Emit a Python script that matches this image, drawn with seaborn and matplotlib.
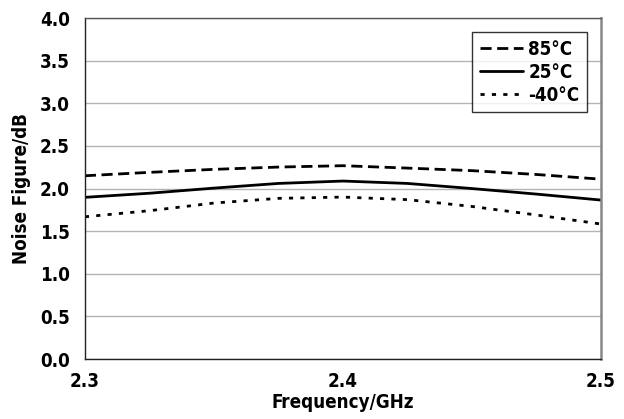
import matplotlib
matplotlib.use("Agg")
import matplotlib.pyplot as plt
import pandas as pd
import seaborn as sns

# frequency points (GHz) and noise figure (dB)
freq = [2.300, 2.325, 2.350, 2.375, 2.400, 2.425, 2.450, 2.475, 2.500]
nf_85 = [2.15, 2.19, 2.225, 2.252, 2.268, 2.24, 2.21, 2.165, 2.11]
nf_25 = [1.897, 1.945, 2.005, 2.06, 2.088, 2.06, 2.00, 1.935, 1.865]
nf_m40 = [1.669, 1.74, 1.83, 1.885, 1.90, 1.87, 1.79, 1.69, 1.584]

labels = ["85°C", "25°C", "-40°C"]
x_ticks = [2.3, 2.4, 2.5]
y_ticks = [0.0, 0.5, 1.0, 1.5, 2.0, 2.5, 3.0, 3.5, 4.0]

sns.set_style("white")
plt.rcParams["font.family"] = ["DejaVu Sans"]
plt.rcParams["font.stretch"] = "condensed"
plt.rcParams["font.weight"] = "bold"
plt.rcParams["text.color"] = "black"
plt.rcParams["axes.labelcolor"] = "black"
plt.rcParams["xtick.color"] = "black"
plt.rcParams["ytick.color"] = "black"

fig = plt.figure(figsize=(6.24, 4.19), dpi=100)
ax = fig.add_axes([0.136, 0.143, 0.827, 0.814])

styles = [(0, (4.0, 2.0)), "-", (0, (1.5, 2.6))]
for series, lab, ls in zip([nf_85, nf_25, nf_m40], labels, styles):
    df = pd.DataFrame({"freq": freq, "nf": series})
    sns.lineplot(data=df, x="freq", y="nf", ax=ax, color="black",
                 linewidth=2.0, linestyle=ls, label=lab)

ax.set_xlim(2.3, 2.5)
ax.set_ylim(0, 4.0)
ax.set_xticks(x_ticks)
ax.set_xticklabels([f"{t:.1f}" for t in x_ticks])
ax.set_yticks(y_ticks)
ax.set_yticklabels([f"{t:.1f}" for t in y_ticks])
ax.grid(axis="y", color="#b4b4b4", linewidth=1.0)
ax.set_axisbelow(True)

for side in ["left", "bottom"]:
    ax.spines[side].set_color("#222222")
    ax.spines[side].set_linewidth(1.0)
ax.spines["top"].set_color("#555555")
ax.spines["top"].set_linewidth(1.0)
ax.spines["right"].set_color("#888888")
ax.spines["right"].set_linewidth(1.8)

ax.tick_params(axis="both", direction="out", length=4, width=1, color="#222222",
               labelsize=13.5)
ax.tick_params(axis="x", pad=5)
ax.tick_params(axis="y", pad=7)

ax.set_xlabel("Frequency/GHz", fontsize=13.5, fontweight="bold", labelpad=2)
ax.set_ylabel("Noise Figure/dB", fontsize=13.5, fontweight="bold", labelpad=6)

leg = ax.legend(loc="upper right", bbox_to_anchor=(0.973, 0.959), frameon=True,
                fancybox=False, edgecolor="black", fontsize=13.5, handlelength=2.3,
                handletextpad=0.3, borderpad=0.4, labelspacing=0.22,
                borderaxespad=0)
leg.get_frame().set_linewidth(1.0)
for t in leg.get_texts():
    t.set_fontweight("bold")

fig.savefig("out.png", dpi=100)
